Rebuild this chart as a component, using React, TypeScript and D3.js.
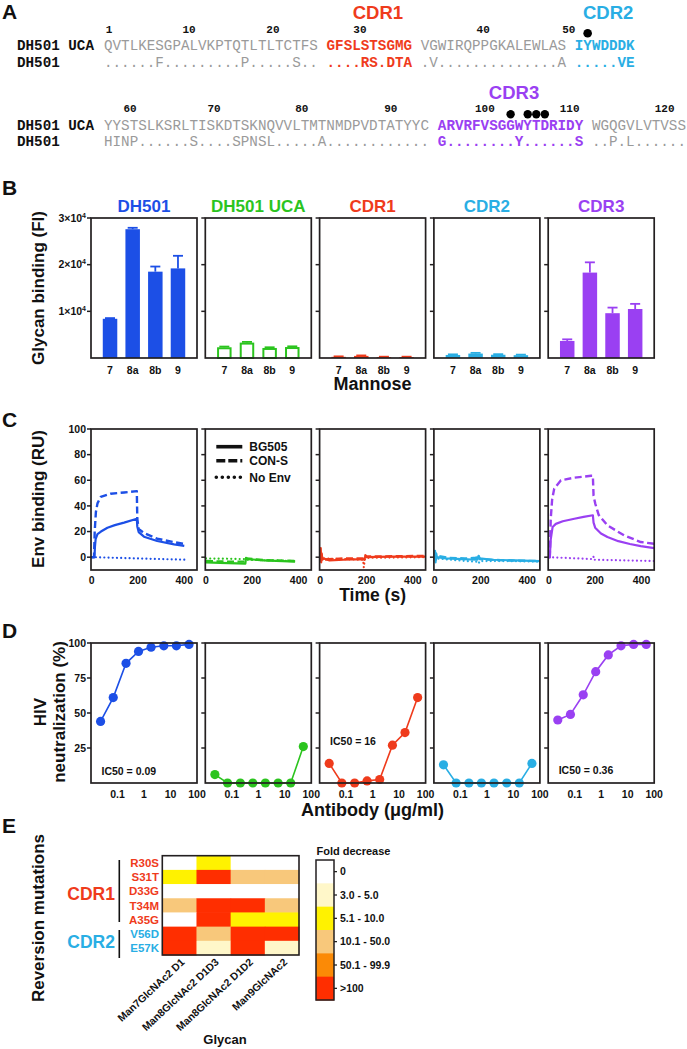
import React from "react";
import * as d3 from "d3";

const SANS = "'Liberation Sans', Arial, Helvetica, sans-serif";
const MONO = "'Liberation Mono', 'Courier New', monospace";
const INK = "#231f20";

// ---------------- Panel A: sequence alignment ----------------
const rowNames = ["DH501 UCA", "DH501"];
const block1Roles = ["fw", "CDR1", "fw", "CDR2"];
const block1UCA = ["QVTLKESGPALVKPTQTLTLTCTFS", "GFSLSTSGMG", "VGWIRQPPGKALEWLAS", "IYWDDDK"];
const block1DH501 = ["......F.........P.....S..", "....RS.DTA", ".V..............A", ".....VE"];
const block2Roles = ["fw", "CDR3", "fw"];
const block2UCA = ["YYSTSLKSRLTISKDTSKNQVVLTMTNMDPVDTATYYC", "ARVRFVSGGWYTDRIDY", "WGQGVLVTVSS"];
const block2DH501 = ["HINP......S....SPNSL.....A............", "G........Y......S", "..P.L......"];
const block1Numbers = ["1", "10", "20", "30", "40", "50"];
const block1NumberCols = [0.58, 9.93, 19.74, 29.9, 44.3, 54.3];
const block2Numbers = ["60", "70", "80", "90", "100", "110", "120"];
const block2NumberCols = [3.04, 12.85, 23.1, 33.5, 44.5, 54.4, 65.5];
const block1Marks = [56];
const block2Marks = [47, 49, 50, 51];
const regionTitles = ["CDR1", "CDR2", "CDR3"];
const regionTitleCols = [32.0, 58.9, 47.9];
const regionTitleBlock = [1, 1, 2];

// ---------------- Antibodies ----------------
const antibodies = ["DH501", "DH501 UCA", "CDR1", "CDR2", "CDR3"];
const abColors = ["#1c4fe6", "#2bc41e", "#ef3b1c", "#29aee4", "#9a40f2"];
const roleColor: Record<string, string> = { fw: "#9a9a9a", CDR1: "#ef3b1c", CDR2: "#29aee4", CDR3: "#9a40f2" };

// ---------------- Panel B: glycan binding ----------------
const mannoseTypes = ["7", "8a", "8b", "9"];
const glycanDH501 = [8400, 27600, 18500, 19200];
const glycanUCA = [2300, 3300, 2150, 2350];
const glycanCDR1 = [250, 450, 200, 200];
const glycanCDR2 = [650, 950, 700, 600];
const glycanCDR3 = [3650, 18300, 9600, 10500];
const glycanSemDH501 = [150, 300, 1100, 2700];
const glycanSemUCA = [150, 150, 150, 150];
const glycanSemCDR1 = [100, 100, 80, 80];
const glycanSemCDR2 = [130, 150, 120, 120];
const glycanSemCDR3 = [350, 2200, 1200, 1100];
const glycanMeans = [glycanDH501, glycanUCA, glycanCDR1, glycanCDR2, glycanCDR3];
const glycanSems = [glycanSemDH501, glycanSemUCA, glycanSemCDR1, glycanSemCDR2, glycanSemCDR3];
const glycanHollow = [false, true, false, false, false];
const glycanTicks = [10000, 20000, 30000];

// ---------------- Panel C: SPR sensorgrams [time s, RU] ----------------
const envNames = ["BG505", "CON-S", "No Env"];
const sprDH501BG505 = [[0, 0], [12, 0], [14, 8], [17, 14], [25, 18], [40, 20], [68, 23], [100, 25], [140, 27], [195, 30], [197, 24], [203, 19.6], [226, 16], [283, 12.6], [356, 10], [400, 8.8]];
const sprDH501CONS = [[0, 0], [10, 0], [13, 20], [18, 35], [25, 42], [39, 47], [82, 49.5], [140, 50.5], [195, 51.5], [197, 30], [203, 22], [226, 18.8], [283, 14.4], [356, 11.7], [400, 10.3]];
const sprDH501NoEnv = [[0, 0], [10, 0], [200, -1], [410, -2]];
const sprUCABG505 = [[0, -4], [60, -4.5], [170, -5], [173, -0.5], [180, -1.5], [250, -2.5], [385, -3.5]];
const sprUCACONS = [[0, -3], [90, -3.5], [170, -3.5], [173, -1], [250, -2.3], [385, -3]];
const sprUCANoEnv = [[0, -1], [90, -1.2], [170, -1.5], [173, -2], [280, -2.5], [385, -3]];
const sprCDR1BG505 = [[0, 0], [2, 7], [4, -4], [6, 3], [9, -2], [15, -1], [40, -2.5], [100, -2], [185, -1.5], [190, -2], [195, 1], [200, 0], [300, 0.5], [455, 0.5]];
const sprCDR1CONS = [[0, 0], [5, 2], [10, -2], [40, -1.5], [100, -1], [190, -1], [195, 1.5], [200, 0.5], [455, 1]];
const sprCDR1NoEnv = [[0, 0], [10, -1], [100, -1.5], [185, -2], [188, -8], [192, -2], [200, -0.5], [455, 0]];
const sprCDR2BG505 = [[0, 0], [2, 5], [4, -4], [7, 3], [10, 0], [50, -1], [120, -1.5], [185, -2], [190, 1], [195, -1], [250, -2], [350, -2.5], [455, -3]];
const sprCDR2CONS = [[0, 1], [5, -2], [10, 1], [60, -0.5], [130, -1], [180, -0.5], [188, 2], [195, -1.5], [300, -2.5], [455, -3]];
const sprCDR2NoEnv = [[0, 0], [10, -1], [100, -2.5], [180, -3.5], [190, -5], [195, -3], [300, -3], [455, -3.5]];
const sprCDR3BG505 = [[0, 0], [4, 0], [8, 14], [16, 23.5], [30, 26], [60, 28], [110, 30], [150, 31.5], [190, 32.7], [193, 27], [200, 23], [225, 18.5], [253, 15.7], [300, 12.5], [350, 10.3], [397, 8.6], [455, 7]];
const sprCDR3CONS = [[0, 0], [4, 0], [8, 30], [14, 45], [23, 53.5], [52, 60], [110, 62], [182, 63.5], [190, 63.5], [193, 48], [200, 42], [215, 33], [253, 24.8], [325, 17], [397, 11.8], [455, 10.5]];
const sprCDR3NoEnv = [[0, 0], [190, -1.5], [193, 0.5], [196, -2], [455, -3]];
const sprSeries = [
  [sprDH501BG505, sprDH501CONS, sprDH501NoEnv],
  [sprUCABG505, sprUCACONS, sprUCANoEnv],
  [sprCDR1BG505, sprCDR1CONS, sprCDR1NoEnv],
  [sprCDR2BG505, sprCDR2CONS, sprCDR2NoEnv],
  [sprCDR3BG505, sprCDR3CONS, sprCDR3NoEnv],
];
const sprYTicks = [0, 20, 40, 60, 80, 100];
const sprXTicks = [0, 200, 400];

// ---------------- Panel D: neutralization ----------------
const concentrations = [0.023, 0.069, 0.21, 0.62, 1.85, 5.6, 16.7, 50];
const neutDH501 = [44, 61, 85.5, 94, 97, 98, 98, 99];
const neutUCA = [6, 0, 0, 0, 0, 0, 0, 26];
const neutCDR1 = [14, 0, 0, 1.5, 2.5, 27, 36, 61];
const neutCDR2 = [13, 0, 0, 0, 0, 0, 0, 14];
const neutCDR3 = [45, 49, 63, 79.5, 91.5, 98, 99, 99];
const neutSeries = [neutDH501, neutUCA, neutCDR1, neutCDR2, neutCDR3];
const ic50Labels = ["IC50 = 0.09", "", "IC50 = 16", "", "IC50 = 0.36"];
const ic50LabelY = [775, 0, 745, 0, 774];
const neutYTicks = [25, 50, 75, 100];
const neutXTicks = [0.1, 1, 10, 100];

// ---------------- Panel E: heatmap ----------------
const glycans = ["Man7GlcNAc2 D1", "Man8GlcNAc2 D1D3", "Man8GlcNAc2 D1D2", "Man9GlcNAc2"];
const mutations = ["R30S", "S31T", "D33G", "T34M", "A35G", "V56D", "E57K"];
const mutationRegion = ["CDR1", "CDR1", "CDR1", "CDR1", "CDR1", "CDR2", "CDR2"];
const foldR30S = [0, 2, 0, 0];
const foldS31T = [2, 5, 3, 3];
const foldD33G = [0, 0, 0, 0];
const foldT34M = [3, 5, 5, 3];
const foldA35G = [0, 5, 2, 2];
const foldV56D = [5, 3, 5, 5];
const foldE57K = [5, 1, 5, 1];
const foldMatrix = [foldR30S, foldS31T, foldD33G, foldT34M, foldA35G, foldV56D, foldE57K];
const foldLabels = ["0", "3.0 - 5.0", "5.1 - 10.0", "10.1 - 50.0", "50.1 - 99.9", ">100"];
const foldColors = ["#ffffff", "#fff7c9", "#fff200", "#f8c87b", "#fb8a06", "#ff2e00"];

// ---------------- Layout ----------------
const PANEL_X0 = 91;
const PANEL_STEP = 114.3;
const PANEL_W = 106;
const panelLeft = (i: number) => PANEL_X0 + i * PANEL_STEP;
const SEQ_X0 = 104;
const CW = 8.56;
const SEQ_FS = CW / 0.6;

function SeqBlock({ uca, dh, roles, y1, y2 }: any) {
  const rows = [uca, dh];
  const ys = [y1, y2];
  return (
    <g>
      {rows.map((segs: string[], r: number) => {
        let col = 0;
        return (
          <g key={r}>
            <text x={17} y={ys[r]} fontFamily={MONO} fontWeight="bold" fontSize={SEQ_FS} fill="#111">
              {rowNames[r]}
            </text>
            {segs.map((s, i) => {
              const x = SEQ_X0 + col * CW;
              col += s.length + 1;
              const role = roles[i];
              return (
                <text key={i} x={x} y={ys[r]} fontFamily={MONO} fontSize={SEQ_FS}
                  fontWeight={role === "fw" ? "normal" : "bold"} fill={roleColor[role]}>
                  {s}
                </text>
              );
            })}
          </g>
        );
      })}
    </g>
  );
}

function Frame({ x, top, bottom, ticks, y, labels, fmt }: any) {
  return (
    <g>
      <rect x={x} y={top} width={PANEL_W} height={bottom - top} fill="none" stroke={INK} strokeWidth={1.7} />
      {ticks.map((t: number) => (
        <line key={t} x1={x - 4} x2={x} y1={y(t)} y2={y(t)} stroke={INK} strokeWidth={1.5} />
      ))}
      {labels &&
        ticks.map((t: number) => (
          <text key={"l" + t} x={x - 5} y={y(t) + 3.7} textAnchor="end" fontFamily={SANS} fontWeight="bold" fontSize={10.5} fill="#111">
            {fmt(t)}
          </text>
        ))}
    </g>
  );
}

export default function App() {
  const yB = d3.scaleLinear().domain([0, 30000]).range([358, 218]);
  const xB = d3.scaleBand().domain(mannoseTypes).range([0, PANEL_W]).paddingInner(0.36).paddingOuter(0.52);
  const yC = d3.scaleLinear().domain([-10, 100]).range([570, 429]);
  const xC = d3.scaleLinear().domain([-3, 455]).range([0, PANEL_W]);
  const yD = d3.scaleLinear().domain([0, 100]).range([783, 643]);
  const xD = d3.scaleLog().domain([0.01, 100]).range([0, PANEL_W]);
  const xE = d3.scaleBand().domain(glycans).range([162.3, 299]);
  const yE = d3.scaleBand().domain(mutations).range([855.7, 955]);
  const yL = d3.scaleBand().domain(foldLabels).range([860, 1000]);

  const sprLine = (x0: number) =>
    d3.line<number[]>().x((d) => x0 + xC(d[0])).y((d) => yC(d[1])).curve(d3.curveLinear);
  const lineStyles = [
    { dash: "none", w: 2.2, cap: "butt" },
    { dash: "7 3.5", w: 2.4, cap: "butt" },
    { dash: "0.01 4.2", w: 2.2, cap: "round" },
  ];

  const sup = (t: number) => (
    <>
      {t / 10000}×10<tspan dy={-4} fontSize={7}>4</tspan>
    </>
  );

  return (
    <svg width={687} height={1049} viewBox="0 0 687 1049" style={{ position: "absolute", left: 0, top: 0, background: "#fff" }}>
      <rect width={687} height={1049} fill="#fff" />
      {[["A", 18.5], ["B", 195], ["C", 426.5], ["D", 638], ["E", 833]].map(([l, y]) => (
        <text key={l as string} x={2} y={y as number} fontFamily={SANS} fontWeight="bold" fontSize={21} fill="#111">
          {l}
        </text>
      ))}

      {/* ---------- Panel A ---------- */}
      {block1Numbers.map((n, i) => (
        <text key={n} x={SEQ_X0 + block1NumberCols[i] * CW} y={32.5} textAnchor="middle" fontFamily={MONO} fontWeight="bold" fontSize={11} fill="#111">
          {n}
        </text>
      ))}
      {block2Numbers.map((n, i) => (
        <text key={n} x={SEQ_X0 + block2NumberCols[i] * CW} y={111.7} textAnchor="middle" fontFamily={MONO} fontWeight="bold" fontSize={11} fill="#111">
          {n}
        </text>
      ))}
      {regionTitles.map((t, i) => (
        <text key={t} x={SEQ_X0 + regionTitleCols[i] * CW} y={regionTitleBlock[i] === 1 ? 19 : 99} textAnchor="middle"
          fontFamily={SANS} fontWeight="bold" fontSize={18.5} fill={roleColor[t]}>
          {t}
        </text>
      ))}
      {block1Marks.map((c) => (
        <circle key={c} cx={SEQ_X0 + (c + 0.5) * CW} cy={33.3} r={4.3} fill="#000" />
      ))}
      {block2Marks.map((c) => (
        <circle key={c} cx={SEQ_X0 + (c + 0.5) * CW} cy={114.3} r={4.2} fill="#000" />
      ))}
      <SeqBlock uca={block1UCA} dh={block1DH501} roles={block1Roles} y1={50} y2={66.7} />
      <SeqBlock uca={block2UCA} dh={block2DH501} roles={block2Roles} y1={130} y2={145.5} />

      {/* ---------- Panel B ---------- */}
      <text transform="translate(44,288) rotate(-90)" textAnchor="middle" fontFamily={SANS} fontWeight="bold" fontSize={17} fill="#111">
        Glycan binding (FI)
      </text>
      {antibodies.map((ab, i) => {
        const x0 = panelLeft(i);
        const color = abColors[i];
        const hollow = glycanHollow[i];
        return (
          <g key={ab}>
            <text x={x0 + PANEL_W / 2} y={211.7} textAnchor="middle" fontFamily={SANS} fontWeight="bold" fontSize={17} fill={color}>
              {ab}
            </text>
            {mannoseTypes.map((m, j) => {
              const v = glycanMeans[i][j];
              const e = glycanSems[i][j];
              const bx = x0 + (xB(m) as number);
              const bw = xB.bandwidth();
              const cx = bx + bw / 2;
              return (
                <g key={m}>
                  <line x1={cx} x2={cx} y1={yB(v)} y2={yB(v + e)} stroke={color} strokeWidth={1.8} />
                  <line x1={cx - 5} x2={cx + 5} y1={yB(v + e)} y2={yB(v + e)} stroke={color} strokeWidth={1.8} />
                  {hollow ? (
                    <rect x={bx + 1} y={yB(v) + 1} width={bw - 2} height={yB(0) - yB(v) - 1} fill="#fff" stroke={color} strokeWidth={2} />
                  ) : (
                    <rect x={bx} y={yB(v)} width={bw} height={yB(0) - yB(v)} fill={color} />
                  )}
                </g>
              );
            })}
            <Frame x={x0} top={218} bottom={358} ticks={glycanTicks} y={yB} labels={i === 0} fmt={sup} />
            {mannoseTypes.map((m) => (
              <text key={"t" + m} x={x0 + (xB(m) as number) + xB.bandwidth() / 2} y={373.5} textAnchor="middle"
                fontFamily={SANS} fontWeight="bold" fontSize={10.5} fill="#111">
                {m}
              </text>
            ))}
          </g>
        );
      })}
      <text x={panelLeft(2) + PANEL_W / 2} y={390} textAnchor="middle" fontFamily={SANS} fontWeight="bold" fontSize={18} fill="#111">
        Mannose
      </text>

      {/* ---------- Panel C ---------- */}
      <text transform="translate(44,499) rotate(-90)" textAnchor="middle" fontFamily={SANS} fontWeight="bold" fontSize={17} fill="#111">
        Env binding (RU)
      </text>
      {antibodies.map((ab, i) => {
        const x0 = panelLeft(i);
        const color = abColors[i];
        const line = sprLine(x0);
        return (
          <g key={ab}>
            {sprSeries[i].map((s, k) => (
              <path key={k} d={line(s as number[][]) || ""} fill="none" stroke={color} strokeWidth={lineStyles[k].w}
                strokeDasharray={lineStyles[k].dash} strokeLinecap={lineStyles[k].cap as any} strokeLinejoin="round" />
            ))}
            <Frame x={x0} top={429} bottom={570} ticks={sprYTicks} y={yC} labels={i === 0} fmt={(t: number) => String(t)} />
            {sprXTicks.map((t) => (
              <text key={t} x={x0 + xC(t)} y={584} textAnchor="middle" fontFamily={SANS} fontWeight="bold" fontSize={10.5} fill="#111">
                {t}
              </text>
            ))}
          </g>
        );
      })}
      {envNames.map((n, k) => {
        const y = [446.7, 460.7, 477.3][k];
        const x0 = panelLeft(1);
        return (
          <g key={n}>
            <line x1={x0 + 11} x2={x0 + 37} y1={y} y2={y} stroke="#111" strokeWidth={3.6}
              strokeDasharray={k === 0 ? "none" : k === 1 ? "9 3" : "0.01 6"} strokeLinecap={k === 2 ? "round" : "butt"} />
            <text x={x0 + 44} y={y + 4.3} fontFamily={SANS} fontWeight="bold" fontSize={12} fill="#111">
              {n}
            </text>
          </g>
        );
      })}
      <text x={panelLeft(2) + PANEL_W / 2} y={601} textAnchor="middle" fontFamily={SANS} fontWeight="bold" fontSize={17.5} fill="#111">
        Time (s)
      </text>

      {/* ---------- Panel D ---------- */}
      <text transform="translate(45.5,712) rotate(-90)" textAnchor="middle" fontFamily={SANS} fontWeight="bold" fontSize={17} fill="#111">
        HIV
      </text>
      <text transform="translate(65,712) rotate(-90)" textAnchor="middle" fontFamily={SANS} fontWeight="bold" fontSize={17} fill="#111">
        neutralization (%)
      </text>
      {antibodies.map((ab, i) => {
        const x0 = panelLeft(i);
        const color = abColors[i];
        const pts = concentrations.map((c, j) => [x0 + xD(c), yD(neutSeries[i][j])]);
        return (
          <g key={ab}>
            <path d={d3.line()(pts as [number, number][]) || ""} fill="none" stroke={color} strokeWidth={1.6} />
            {pts.map((p, j) => (
              <circle key={j} cx={p[0]} cy={p[1]} r={4.6} fill={color} />
            ))}
            <Frame x={x0} top={643} bottom={783} ticks={neutYTicks} y={yD} labels={i === 0} fmt={(t: number) => String(t)} />
            {neutXTicks.map((t) => (
              <text key={t} x={x0 + xD(t)} y={798} textAnchor="middle" fontFamily={SANS} fontWeight="bold" fontSize={10.5} fill="#111">
                {t}
              </text>
            ))}
            {ic50Labels[i] && (
              <text x={x0 + 10.5} y={ic50LabelY[i]} fontFamily={SANS} fontWeight="bold" fontSize={10.5} fill="#111">
                {ic50Labels[i]}
              </text>
            )}
          </g>
        );
      })}
      <text x={panelLeft(2) + PANEL_W / 2} y={815.5} textAnchor="middle" fontFamily={SANS} fontWeight="bold" fontSize={18} fill="#111">
        Antibody (μg/ml)
      </text>

      {/* ---------- Panel E ---------- */}
      <text transform="translate(44,918) rotate(-90)" textAnchor="middle" fontFamily={SANS} fontWeight="bold" fontSize={17} fill="#111">
        Reversion mutations
      </text>
      {mutations.map((m, r) =>
        glycans.map((g, c) => (
          <rect key={m + g} x={xE(g) as number} y={yE(m) as number} width={xE.bandwidth() + 0.5} height={yE.bandwidth() + 0.5}
            fill={foldColors[foldMatrix[r][c]]} />
        ))
      )}
      <rect x={162.3} y={855.7} width={136.7} height={99.3} fill="none" stroke={INK} strokeWidth={1.6} />
      {mutations.map((m, r) => (
        <text key={m} x={159} y={(yE(m) as number) + yE.bandwidth() / 2 + 4.2} textAnchor="end" fontFamily={SANS} fontWeight="bold"
          fontSize={11.5} fill={roleColor[mutationRegion[r]]}>
          {m}
        </text>
      ))}
      <line x1={119.3} x2={119.3} y1={860} y2={922} stroke="#111" strokeWidth={1.6} />
      <line x1={119.3} x2={119.3} y1={930} y2={958} stroke="#111" strokeWidth={1.6} />
      <text x={115} y={900} textAnchor="end" fontFamily={SANS} fontWeight="bold" fontSize={17.5} fill={roleColor.CDR1}>
        CDR1
      </text>
      <text x={115} y={948.3} textAnchor="end" fontFamily={SANS} fontWeight="bold" fontSize={17.5} fill={roleColor.CDR2}>
        CDR2
      </text>
      {glycans.map((g) => {
        const cx = (xE(g) as number) + xE.bandwidth() / 2 + 6;
        return (
          <text key={g} transform={`translate(${cx},963) rotate(-43)`} textAnchor="end" fontFamily={SANS} fontWeight="bold" fontSize={10.5} fill="#111">
            {g}
          </text>
        );
      })}
      <text x={225} y={1044} textAnchor="middle" fontFamily={SANS} fontWeight="bold" fontSize={13} fill="#111">
        Glycan
      </text>
      <text x={316.5} y={855} fontFamily={SANS} fontWeight="bold" fontSize={11} fill="#111">
        Fold decrease
      </text>
      {foldLabels.map((l, k) => (
        <g key={l}>
          <rect x={316} y={yL(l) as number} width={18} height={yL.bandwidth() + 0.5} fill={foldColors[k]} />
          <line x1={334} x2={337} y1={(yL(l) as number) + yL.bandwidth() / 2} y2={(yL(l) as number) + yL.bandwidth() / 2} stroke="#111" strokeWidth={1.2} />
          <text x={340} y={(yL(l) as number) + yL.bandwidth() / 2 + 3.8} fontFamily={SANS} fontWeight="bold" fontSize={10.5} fill="#111">
            {l}
          </text>
        </g>
      ))}
      <rect x={316} y={860} width={18} height={140} fill="none" stroke={INK} strokeWidth={1.5} />
    </svg>
  );
}
